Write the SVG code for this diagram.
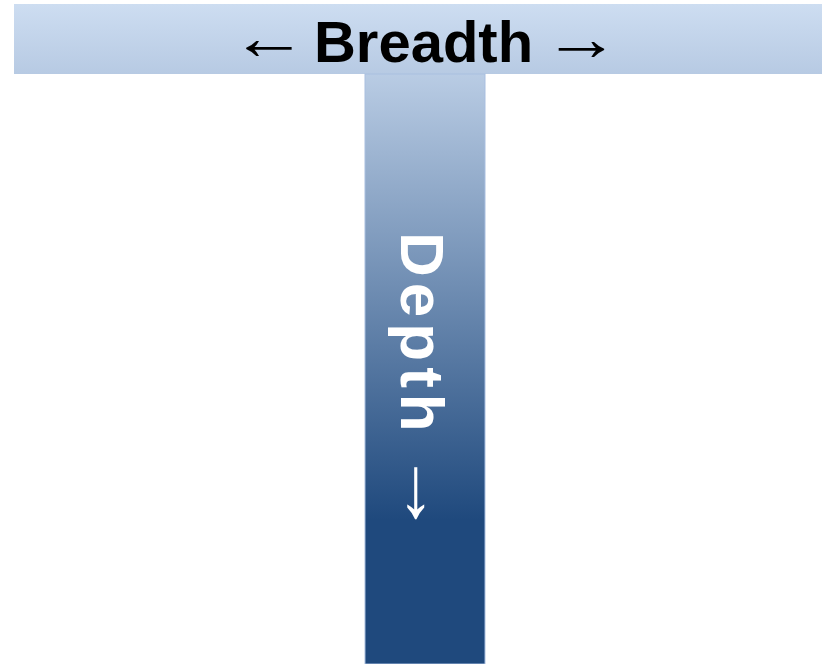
<svg xmlns="http://www.w3.org/2000/svg" width="822" height="664" viewBox="0 0 822 664">
  <defs>
    <linearGradient id="barTop" x1="0" y1="4" x2="0" y2="74" gradientUnits="userSpaceOnUse">
      <stop offset="0" stop-color="#CDDDF1"/>
      <stop offset="1" stop-color="#B7CAE3"/>
    </linearGradient>
    <linearGradient id="barStem" x1="0" y1="74" x2="0" y2="520" gradientUnits="userSpaceOnUse">
      <stop offset="0" stop-color="#B9CCE4"/>
      <stop offset="1" stop-color="#1F497D"/>
    </linearGradient>
    <style>
      .label { font-family: "Liberation Sans", Arial, sans-serif; font-weight: bold; }
      .arrow { font-family: "Liberation Sans", Arial, sans-serif; font-weight: normal; text-anchor: middle; }
    </style>
  </defs>
  <rect width="822" height="664" fill="#FFFFFF"/>

  <!-- horizontal bar: breadth -->
  <g id="breadth">
    <rect x="14" y="4" width="808" height="70" fill="url(#barTop)"/>
    <text class="label" x="423.5" y="62" font-size="58" text-anchor="middle" fill="#000000">Breadth</text>
    <!-- arrows stretched sideways a little to keep the strokes thin -->
    <text class="arrow" transform="translate(269,59) scale(1.2,1)" font-size="64" fill="#000000">←</text>
    <text class="arrow" transform="translate(581.5,60) scale(1.2,1)" font-size="64" fill="#000000">→</text>
  </g>

  <!-- vertical bar: depth -->
  <g id="depth">
    <rect x="365" y="74" width="120" height="590" fill="url(#barStem)" stroke="#A9BFE0" stroke-width="1"/>
    <text class="label" transform="translate(401,232) rotate(90)" x="0" y="0" font-size="62" letter-spacing="6" fill="#FFFFFF">Depth</text>
    <text class="arrow" transform="translate(404,493.5) rotate(90) scale(1.22,1)" font-size="72" fill="#FFFFFF">→</text>
  </g>
</svg>
